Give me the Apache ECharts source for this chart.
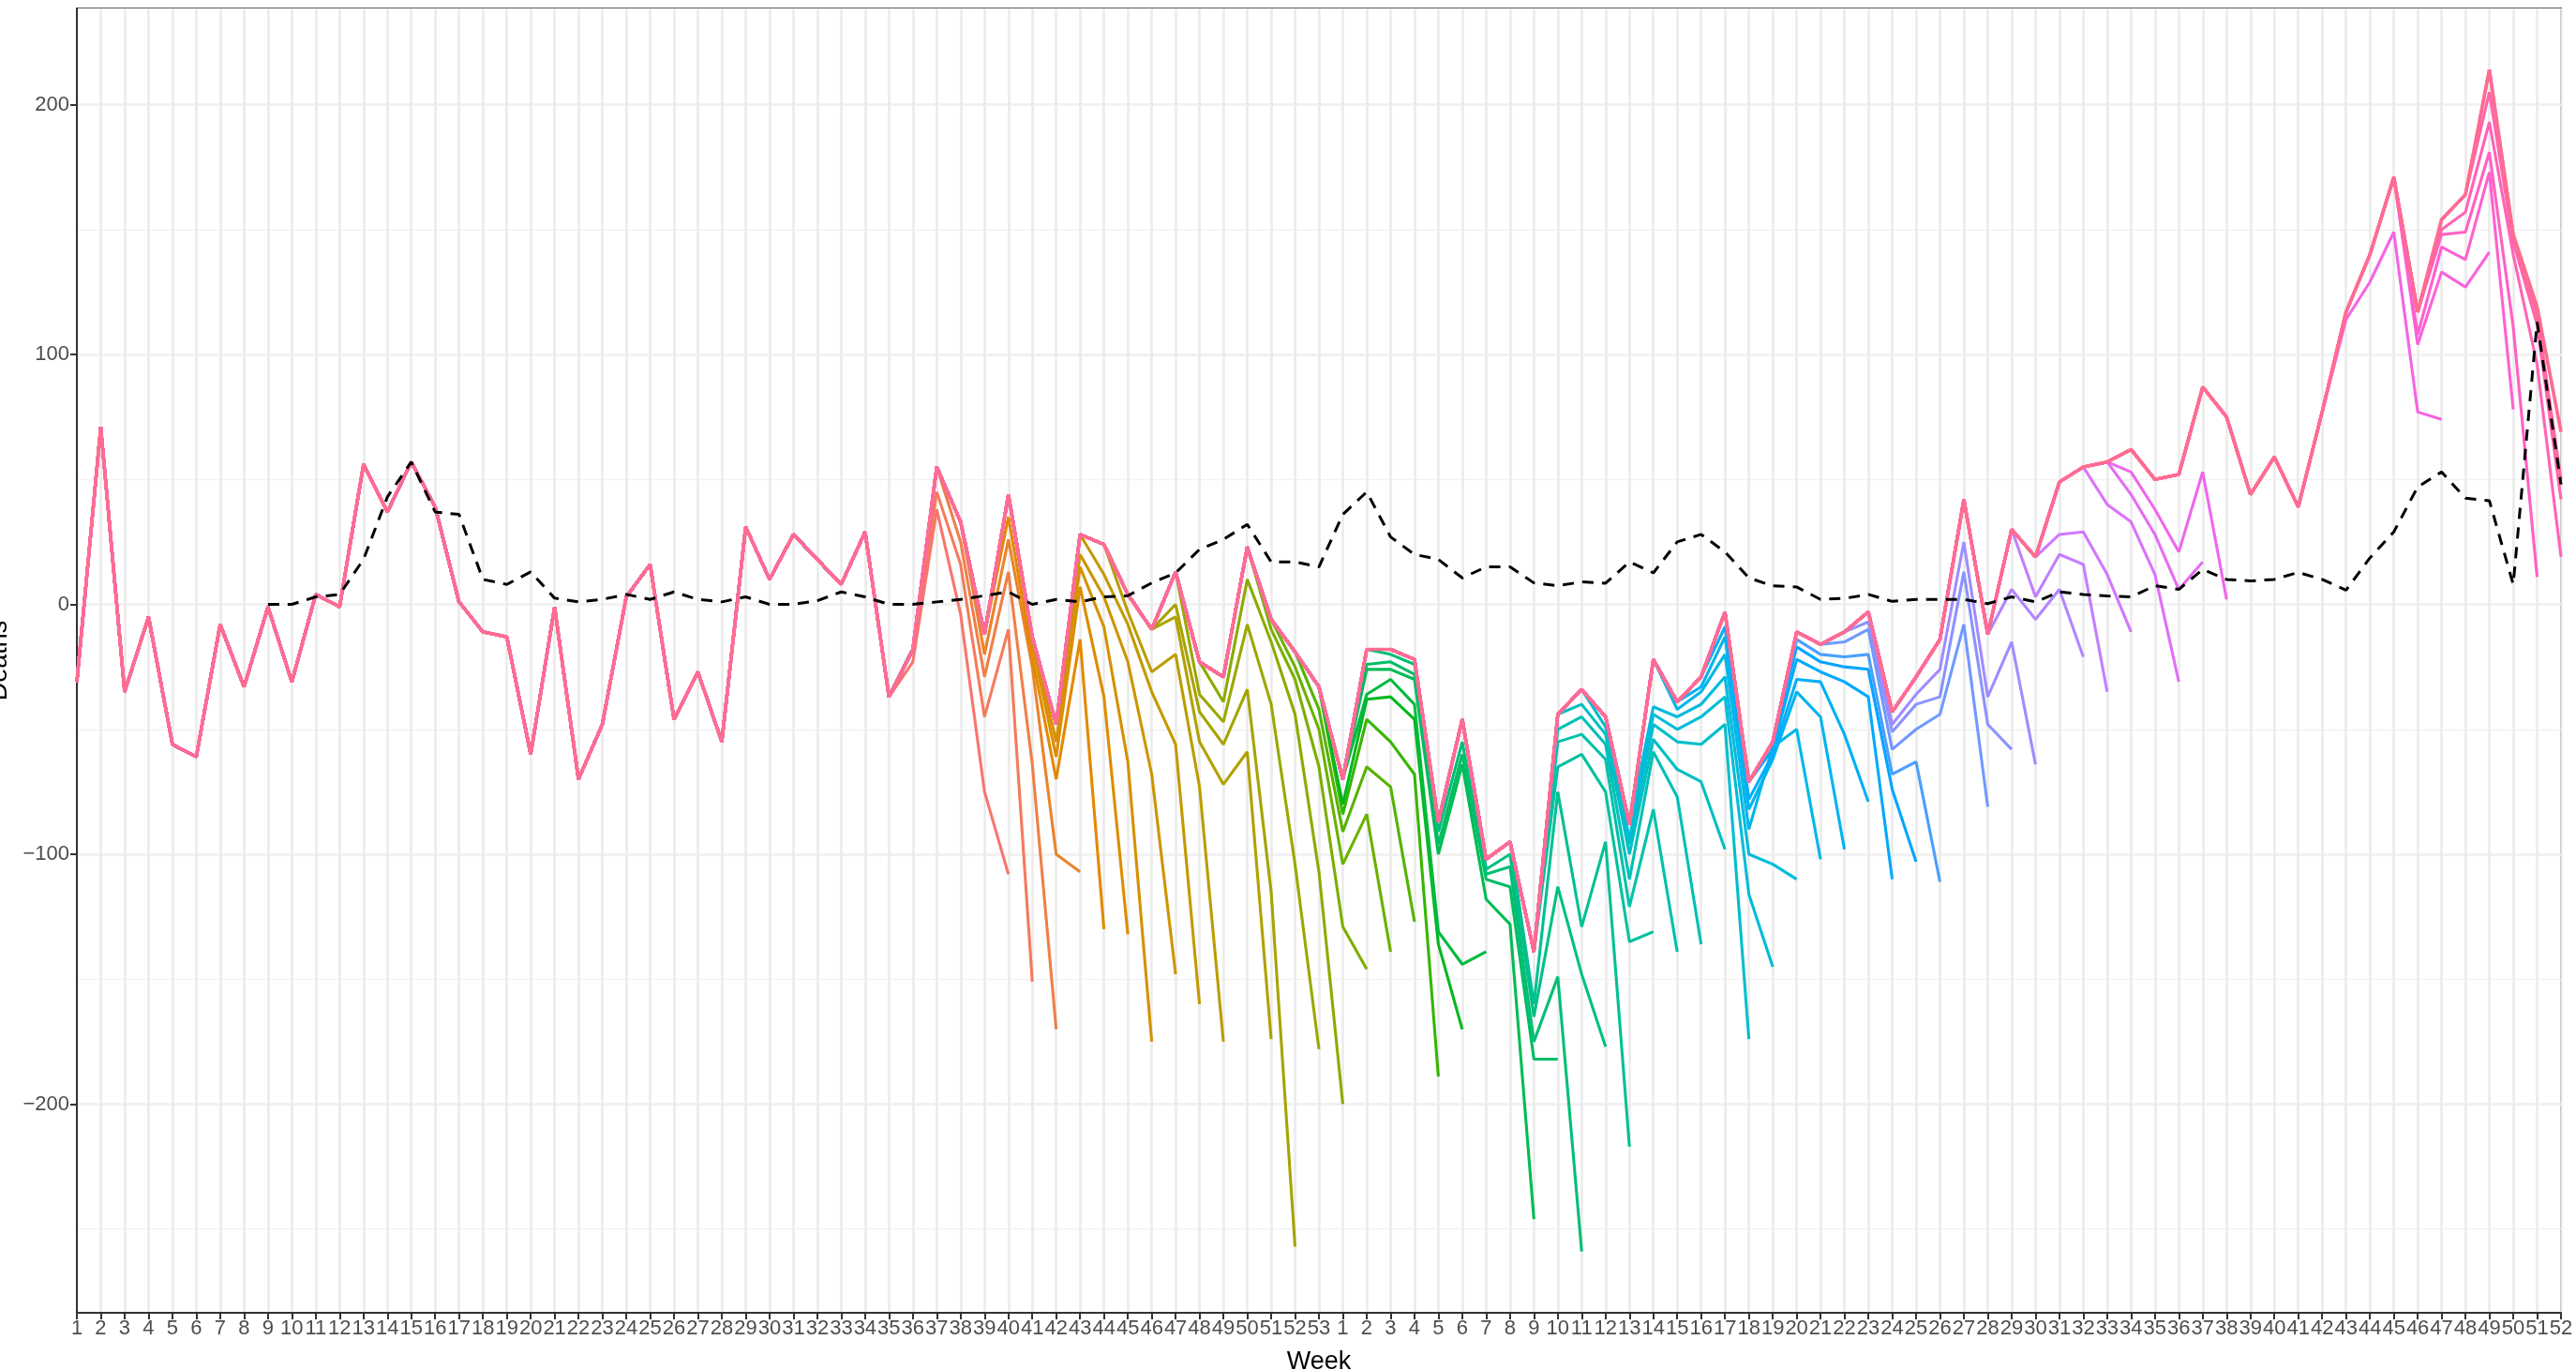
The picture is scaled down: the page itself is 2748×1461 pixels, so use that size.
<!DOCTYPE html>
<html>
<head>
<meta charset="utf-8">
<script src="https://cdn.jsdelivr.net/npm/echarts@6/dist/echarts.min.js"></script>
<style>
  html, body { margin: 0; padding: 0; background: #ffffff; }
  #chart { width: 2748px; height: 1461px; }
</style>
</head>
<body>
<div id="chart"></div>
<script>
// Week labels: ISO weeks of 2020 (1–53) followed by 2021 (1–52)
const weeks2020 = Array.from({ length: 53 }, (_, i) => String(i + 1));
const weeks2021 = Array.from({ length: 52 }, (_, i) => String(i + 1));
const weekLabels = weeks2020.concat(weeks2021);

// Latest estimate of weekly deaths for every week
const finalDeaths = [
  -31, 71, -35, -5, -56, -61, -8, -33, -1, -31, 4, -1, 56, 37, 57, 39, 1, -11, -13, -60,
  -1, -70, -48, 3, 16, -46, -27, -55, 31, 10, 28, 18, 8, 29, -37, -18, 55, 33, -12, 44,
  -13, -48, 28, 24, 4, -10, 13, -23, -29, 23, -6, -19, -33,
  -70, -18, -18, -22, -87, -46, -102, -95, -139, -44, -34, -45, -88, -22, -39, -29, -3, -71,
  -55, -11, -16, -11, -3, -43, -29, -14, 42, -12, 30, 19, 49, 55, 57, 62, 50, 52, 87, 75,
  44, 59, 39, 77, 117, 140, 171, 117, 154, 164, 214, 148, 119, 69
];

// Reference series (dashed), starting at week 9 of 2020
const referenceDeaths = [
  null, null, null, null, null, null, null, null, 0, 0, 3, 4, 18, 43, 57, 37, 36, 10, 8, 13,
  2.5, 1, 2, 4, 2, 5, 2, 1, 3, 0, 0, 1.5, 5, 3, 0, 0, 1, 2, 3.5, 5,
  0, 2, 1, 3, 3.5, 8.6, 12.6, 22, 26, 32, 17, 17, 15,
  36, 45, 27, 20, 18, 10.6, 15, 15, 8.6, 7.5, 9, 8.5, 17, 12.6, 25, 28, 21, 10.6,
  7.4, 7, 2, 2.4, 4, 1.2, 2, 2, 2, 0.3, 3, 1, 5, 4, 3.4, 3, 7.5, 6, 14, 10,
  9.4, 10, 12.8, 10, 5.7, 18.6, 29, 47, 53, 42.5, 41.5, 8, 113, 48
];

// Earlier releases: last reported week and the most recent values of each release
const vintageEnd = [
  '2020-40', '2020-41', '2020-42', '2020-43', '2020-44', '2020-45', '2020-46', '2020-47',
  '2020-48', '2020-49', '2020-51', '2020-52', '2020-53', '2021-1', '2021-2', '2021-3',
  '2021-4', '2021-5', '2021-6', '2021-7', '2021-9', '2021-10', '2021-11', '2021-12',
  '2021-13', '2021-14', '2021-15', '2021-16', '2021-17', '2021-18', '2021-19', '2021-20',
  '2021-21', '2021-22', '2021-23', '2021-24', '2021-25', '2021-26', '2021-28', '2021-29',
  '2021-30', '2021-32', '2021-33', '2021-34', '2021-36', '2021-37', '2021-38', '2021-47',
  '2021-49', '2021-50', '2021-51', '2021-52', '2021-52', '2021-52'
];
const vintageTail = [
  [-23, 38, -4, -75, -108],
  [45, 16, -45, -10, -151],
  [25, -29, 13, -64, -170],
  [-20, 26, -25, -100, -107],
  [35, -21, -70, -14, -130],
  [-16, -61, 7, -37, -132],
  [-55, 15, -9, -63, -175],
  [20, 3, -23, -68, -148],
  [12, -8, -35, -56, -160],
  [-3, -27, -20, -73, -175],
  [-5, -55, -72, -59, -174],
  [0, -43, -56, -34, -115, -257],
  [-36, -47, -8, -40, -104, -178],
  [-39, 10, -15, -44, -107, -200],
  [-10, -30, -65, -129, -146],
  [-25, -50, -104, -84, -139],
  [-42, -91, -65, -73, -127],
  [-84, -46, -55, -68, -189],
  [-80, -38, -37, -46, -136, -170],
  [-36, -30, -40, -131, -144, -139],
  [-26, -26, -30, -100, -64, -118, -128, -246],
  [-24, -23, -28, -96, -60, -110, -113, -182, -182],
  [-20, -24, -91, -55, -108, -105, -175, -149, -259],
  [-106, -100, -165, -113, -148, -177],
  [-160, -75, -129, -95, -217],
  [-65, -60, -75, -135, -131],
  [-55, -52, -62, -121, -82, -139],
  [-50, -45, -56, -110, -59, -77, -136],
  [-40, -52, -100, -54, -66, -71, -98],
  [-49, -96, -48, -55, -56, -48, -174],
  [-94, -44, -50, -45, -37, -116, -145],
  [-41, -45, -40, -29, -100, -104, -110],
  [-42, -35, -20, -90, -57, -50, -102],
  [-33, -13, -82, -62, -35, -45, -98],
  [-9, -78, -60, -30, -31, -52, -79],
  [-58, -22, -27, -31, -37, -110],
  [-17, -23, -25, -26, -74, -103],
  [-14, -20, -21, -20, -68, -63, -111],
  [-15, -10, -58, -50, -44, -8, -81],
  [-7, -51, -40, -37, 13, -48, -58],
  [-48, -36, -26, 25, -37, -15, -64],
  [6, -6, 6, -21],
  [3, 20, 16, -35],
  [28, 29, 12, -11],
  [40, 33, 12, -31],
  [44, 28, 6, 17],
  [53, 38, 21, 53, 2],
  [114, 129, 149, 77, 74],
  [104, 133, 127, 141],
  [108, 143, 138, 173, 78],
  [148, 149, 181, 111, 11],
  [150, 157, 193, 140, 96, 19],
  [205, 145, 112, 42],
  [148, 116, 50]
];

// Axis ticks
const yLabelTicks = [-200, -100, 0, 100, 200];
const yMin = -283.5;
const yMax = 238.5;

const FONT = '"Liberation Sans", Arial, Helvetica, sans-serif';
const LINE_WIDTH = 3.1;

// Hue wheel colours (HCL, c = 100, l = 65)
function hclHex(h, c, l) {
  const hr = h * Math.PI / 180;
  const U = c * Math.cos(hr), V = c * Math.sin(hr);
  const Xn = 95.047, Yn = 100, Zn = 108.883;
  const un = 4 * Xn / (Xn + 15 * Yn + 3 * Zn);
  const vn = 9 * Yn / (Xn + 15 * Yn + 3 * Zn);
  const Y = l > 8 ? Yn * Math.pow((l + 16) / 116, 3) : Yn * l / 903.3;
  const u = U / (13 * l) + un, v = V / (13 * l) + vn;
  const X = Y * 9 * u / (4 * v);
  const Z = Y * (12 - 3 * u - 20 * v) / (4 * v);
  const x = X / 100, y = Y / 100, z = Z / 100;
  const lin = [
    3.240479 * x - 1.537150 * y - 0.498535 * z,
    -0.969256 * x + 1.875992 * y + 0.041556 * z,
    0.055648 * x - 0.204043 * y + 1.057311 * z
  ];
  return '#' + lin.map(t => {
    let s = t <= 0.0031308 ? 12.92 * t : 1.055 * Math.pow(t, 1 / 2.4) - 0.055;
    s = Math.max(0, Math.min(1, s));
    return Math.round(s * 255).toString(16).padStart(2, '0');
  }).join('');
}
// Releases run around the wheel from salmon (oldest) to pink (latest)
function releasePalette(n) {
  const out = [];
  for (let i = 0; i < n; i++) out.push(hclHex(15 + 345 * i / (n - 1), 100, 65));
  return out;
}

function weekIndex(label) {
  const [yr, wk] = label.split('-').map(Number);
  return yr === 2020 ? wk - 1 : 53 + wk - 1;
}

const nReleases = vintageTail.length + 1;
const palette = releasePalette(nReleases);

const series = [];
vintageTail.forEach((tail, i) => {
  const end = weekIndex(vintageEnd[i]);
  const start = end - tail.length + 1;
  const data = weekLabels.map((_, k) => {
    if (k < start) return finalDeaths[k];
    if (k <= end) return tail[k - start];
    return null;
  });
  series.push({
    type: 'line', name: vintageEnd[i], data,
    symbol: 'none', silent: true, connectNulls: false,
    lineStyle: { color: palette[i], width: LINE_WIDTH },
    itemStyle: { color: palette[i] }
  });
});
series.push({
  type: 'line', name: 'latest', data: finalDeaths,
  symbol: 'none', silent: true,
  lineStyle: { color: palette[nReleases - 1], width: LINE_WIDTH + 0.6 },
  itemStyle: { color: palette[nReleases - 1] }
});
series.push({
  type: 'line', name: 'reference', data: referenceDeaths,
  symbol: 'none', silent: true, connectNulls: false,
  lineStyle: { color: '#000000', width: 3, type: [12, 9] },
  itemStyle: { color: '#000000' }
});

const chart = echarts.init(document.getElementById('chart'), null, { renderer: 'canvas' });
chart.setOption({
  animation: false,
  backgroundColor: '#ffffff',
  textStyle: { fontFamily: FONT },
  grid: {
    left: 82, right: 16, top: 9, bottom: 61,
    containLabel: false, outerBoundsMode: 'none',
    show: true, borderColor: '#333333', borderWidth: 2, backgroundColor: 'transparent'
  },
  xAxis: {
    type: 'category', data: weekLabels, boundaryGap: false,
    name: 'Week', nameLocation: 'middle', nameGap: 39,
    nameTextStyle: { fontSize: 27, color: '#000000', fontFamily: FONT },
    axisLine: { show: true, onZero: false, lineStyle: { color: '#333333', width: 2 } },
    axisTick: { show: true, interval: 0, length: 7, lineStyle: { color: '#333333', width: 2 } },
    axisLabel: { interval: 0, fontSize: 22, color: '#4D4D4D', margin: 6, fontFamily: FONT },
    splitLine: { show: true, interval: 0, lineStyle: { color: '#EBEBEB', width: 2.6 } }
  },
  yAxis: [
    {
      type: 'value', position: 'left', min: yMin, max: yMax, splitNumber: 5,
      name: 'Deaths', nameLocation: 'middle', nameGap: 57, nameRotate: 90,
      nameTextStyle: { fontSize: 27, color: '#000000', fontFamily: FONT },
      axisLine: { show: true, onZero: false, lineStyle: { color: '#333333', width: 2 } },
      axisTick: { show: true, customValues: yLabelTicks, length: 7, lineStyle: { color: '#333333', width: 2 } },
      axisLabel: {
        customValues: yLabelTicks, fontSize: 22, color: '#4D4D4D', margin: 8, fontFamily: FONT,
        formatter: v => (v < 0 ? '\u2212' + Math.abs(v) : String(v))
      },
      splitLine: { show: true, lineStyle: { color: '#EBEBEB', width: 2.6 } }
    },
    {
      type: 'value', position: 'left', min: yMin, max: yMax, splitNumber: 10,
      axisLine: { show: false }, axisTick: { show: false }, axisLabel: { show: false },
      splitLine: { show: true, lineStyle: { color: '#F2F2F2', width: 1.3 } }
    }
  ],
  series
});
</script>
</body>
</html>
